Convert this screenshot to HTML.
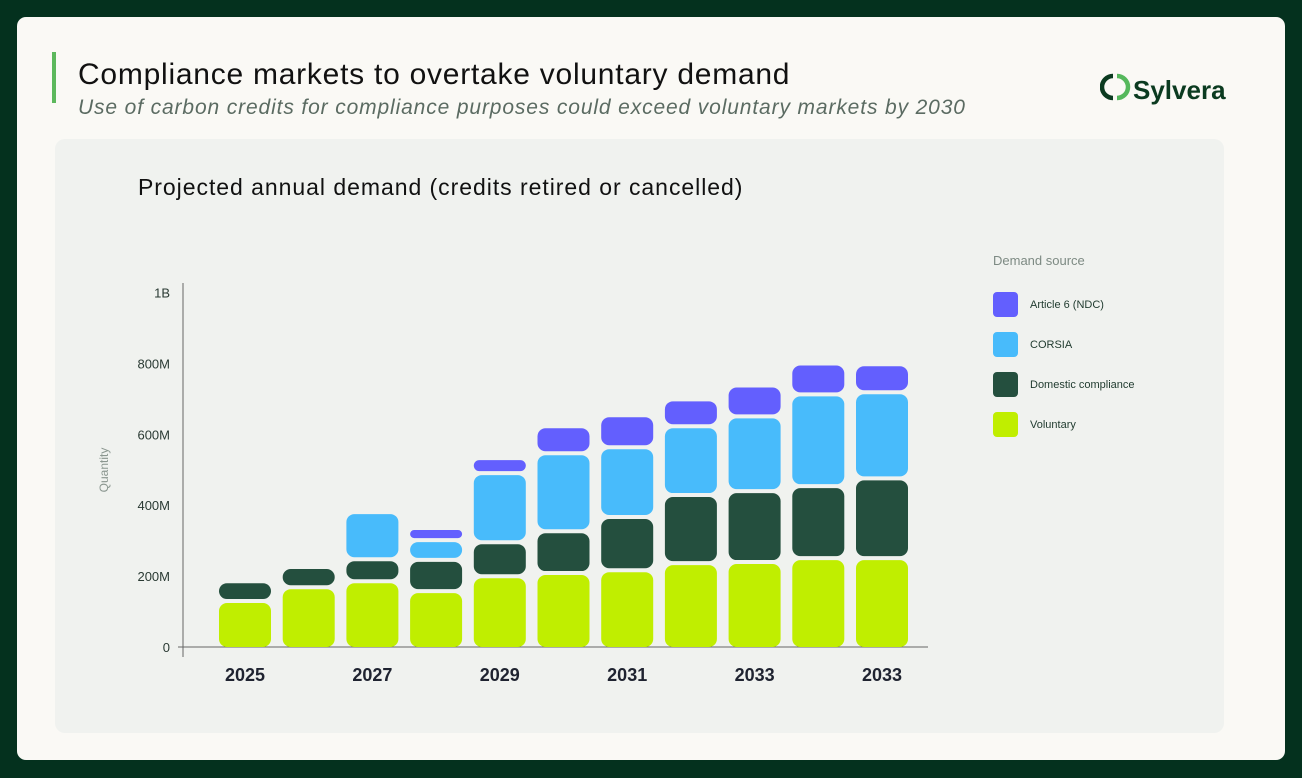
<!DOCTYPE html>
<html><head><meta charset="utf-8"><style>
html,body{margin:0;padding:0;}
body{width:1302px;height:778px;background:#04311e;position:relative;overflow:hidden;font-family:"Liberation Sans",sans-serif;}
.card{position:absolute;left:17px;top:17px;width:1268px;height:743px;background:#faf9f5;border-radius:9px;}
.accent{position:absolute;left:52px;top:52px;width:4px;height:51px;background:#5cb85c;}
.title{position:absolute;left:78px;top:58px;font-size:30px;letter-spacing:0.75px;color:#111;white-space:nowrap;}
.sub{position:absolute;left:78px;top:96px;font-size:21px;letter-spacing:0.87px;font-style:italic;color:#5b6b62;white-space:nowrap;}
.logo{position:absolute;left:1100px;top:70px;}
.panel{position:absolute;left:55px;top:139px;width:1169px;height:594px;background:#f0f2ef;border-radius:10px;}
.ctitle{position:absolute;left:138px;top:174px;font-size:23px;letter-spacing:0.96px;color:#111;white-space:nowrap;}
svg#chart{position:absolute;left:0;top:0;}
</style></head><body>
<div class="card"></div>
<div class="accent"></div>
<div class="title">Compliance markets to overtake voluntary demand</div>
<div class="sub">Use of carbon credits for compliance purposes could exceed voluntary markets by 2030</div>
<div class="logo">
<svg width="140" height="36" viewBox="0 0 140 36">
<path d="M13 6 A10 10 0 0 0 13 28" fill="none" stroke="#0b3b20" stroke-width="4.5"/>
<path d="M17 28 A10 10 0 0 0 17 6" fill="none" stroke="#55b85c" stroke-width="4.5"/>
<text x="33" y="29" font-family="Liberation Sans, sans-serif" font-size="26" font-weight="bold" fill="#0b3b20">Sylvera</text>
</svg></div>
<div class="panel"></div>
<div class="ctitle">Projected annual demand (credits retired or cancelled)</div>
<svg id="chart" width="1302" height="778"></svg>
<script>
const years=["2025","2026","2027","2028","2029","2030","2031","2032","2033","2034","2033"];
const showLabel=[true,false,true,false,true,false,true,false,true,false,true];
const voluntary=[124,163,180,152,194,203,211,231,234,245,245];
const domestic=[56,57,62,88,96,118,150,192,200,203,225];
const corsia=[0,0,133,56,195,220,197,194,211,259,243];
const article6=[0,0,0,34,42,76,90,76,87,87,79];
const tickVals=[0,200,400,600,800,1000];
const tickLabels=["0","200M","400M","600M","800M","1B"];
const seriesNames=["Article 6 (NDC)","CORSIA","Domestic compliance","Voluntary"];
const colors=["#635ffe","#48bbfb","#244f3e","#c0ee00"];
const NS="http://www.w3.org/2000/svg";
const svg=document.getElementById('chart');
const y0=647,pxPer=0.3545;
function yScale(v){return y0-v*pxPer;}
function xScale(i){return 245+i*63.7;}
function el(t,a){const e=document.createElementNS(NS,t);for(const k in a)e.setAttribute(k,a[k]);svg.appendChild(e);return e;}
let ax=el('line',{x1:183,y1:283,x2:183,y2:657,stroke:'#666','stroke-width':1});


let bx=el('line',{x1:178,y1:647,x2:928,y2:647,stroke:'#666','stroke-width':1});


tickVals.forEach((v,i)=>{const t=el('text',{x:170,y:yScale(v)+5,'text-anchor':'end','font-size':13,fill:'#2a3a33'});t.textContent=tickLabels[i];

});
const yt=el('text',{x:108,y:470,'text-anchor':'middle','font-size':12,fill:'#8a968f',transform:'rotate(-90 108 470)'});yt.textContent='Quantity';


const stacks=[voluntary,domestic,corsia,article6];
const segColors=[colors[3],colors[2],colors[1],colors[0]];
const segNames=['voluntary','domestic','corsia','article6'];
years.forEach((yr,i)=>{
  let base=0;const cx=xScale(i),w=52;
  stacks.forEach((arr,s)=>{
    const v=arr[i];if(v<=0)return;
    const top=yScale(base+v),bot=yScale(base)-(base>0?4:0);
    const h=Math.max(bot-top,4);
    const r=el('rect',{x:cx-w/2,y:top,width:w,height:h,rx:Math.min(8,h/2),fill:segColors[s]});
    
    
    base+=v;
  });
  if(showLabel[i]){const t=el('text',{x:cx,y:681,'text-anchor':'middle','font-size':18,'font-weight':'bold',fill:'#1f2330'});t.textContent=yr;
  
  }
});
const lt=el('text',{x:993,y:265,'font-size':13,fill:'#7d8a83'});lt.textContent='Demand source';


seriesNames.forEach((n,i)=>{const yy=292+i*40;
  const r=el('rect',{x:993,y:yy,width:25,height:25,rx:4,fill:colors[i]});
  
  
  const t=el('text',{x:1030,y:yy+16,'font-size':11,fill:'#1f3a2e'});t.textContent=n;
  
  
});
</script>
</body></html>
